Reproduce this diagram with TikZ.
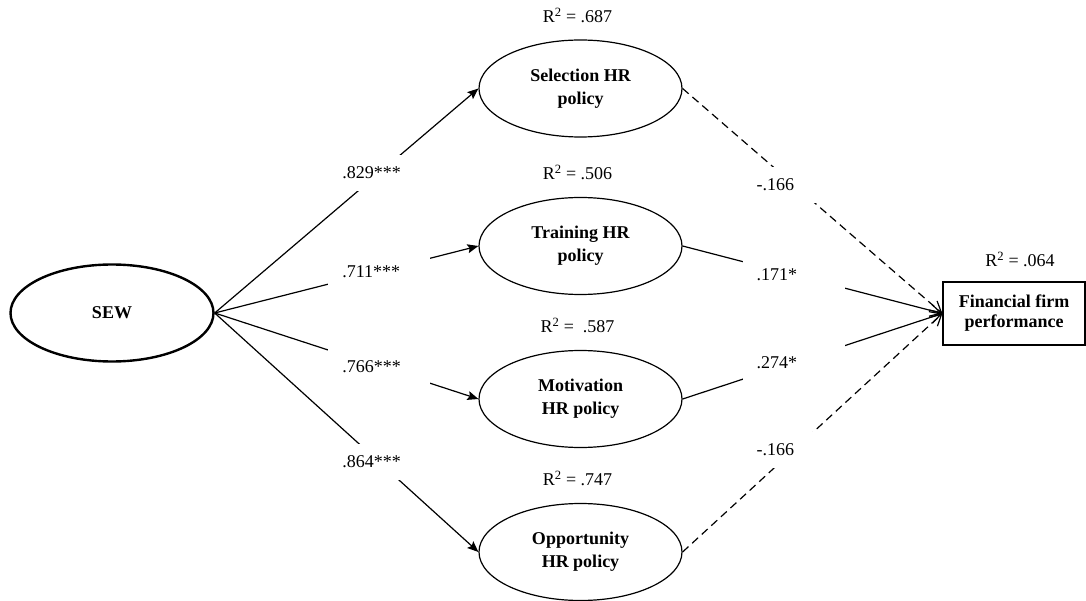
\documentclass[tikz,border=0pt]{standalone}
\usepackage{fontspec}
\setmainfont{Liberation Serif}
\usetikzlibrary{
arrows.meta,
positioning,
shapes.geometric
}

\begin{document}
\begin{tikzpicture}[
x=1pt,y=1pt,
font=\fontsize{18}{23}\selectfont,
construct/.style={
draw,
ellipse,
line width=1.2pt,
minimum width=203pt,
minimum height=97pt,
inner sep=0pt,
align=center,
font=\fontsize{18}{23}\selectfont\bfseries
},
outcome/.style={
draw,
rectangle,
line width=1.2pt,
minimum width=142pt,
minimum height=63pt,
align=center,
font=\fontsize{18}{20}\selectfont\bfseries
},
rsq/.style={inner sep=0pt,xshift=-3pt},
coef/.style={fill=white,text width=74pt,align=left,inner xsep=14pt,minimum height=36pt},
arrow/.style={-{Stealth[length=11pt,width=9pt,inset=2pt]},line width=1.2pt},
effect/.style={-{Straight Barb[length=11pt,width=12pt]},line width=1.2pt},
nonsig/.style={effect,dash pattern=on 8pt off 5pt}
]
\useasboundingbox (0,0) rectangle (1086,-601);

\node[construct,line width=2.4pt] (sew) at (112,-313) {SEW};

\node[construct] (selection) at (580.5,-88.5) {Selection HR\\policy};
\node[construct] (training) at (580.5,-246) {Training HR\\policy};
\node[construct] (motivation) at (580.5,-399) {Motivation\\HR policy};
\node[construct] (opportunity) at (580.5,-552) {Opportunity\\HR policy};

\node[outcome] (perf) at (1014,-313.5) {Financial firm\\performance};

% explained variance
\node[rsq,above=16.5pt of selection] (r2sel) {R\textsuperscript{2} = .687};
\node[rsq,above=16.5pt of training] (r2tra) {R\textsuperscript{2} = .506};
\node[rsq,above=16.5pt of motivation] (r2mot) {R\textsuperscript{2} =\ \ .587};
\node[rsq,above=16.5pt of opportunity] (r2opp) {R\textsuperscript{2} = .747};
\node[inner sep=0pt,above=14pt of perf,xshift=6pt] (r2perf) {R\textsuperscript{2} = .064};

% SEW -> HR policies
\draw[arrow] (sew.east) -- node[coef,pos=0.624] {.829***} (selection.west);
\draw[arrow] (sew.east) -- node[coef,pos=0.624] {.711***} (training.west);
\draw[arrow] (sew.east) -- node[coef,pos=0.624] {.766***} (motivation.west);
\draw[arrow] (sew.east) -- node[coef,pos=0.624] {.864***} (opportunity.west);

% HR policies -> performance
\draw[nonsig] (selection.east) -- node[coef,pos=0.427] {-.166} (perf.west);
\draw[effect] (training.east) -- node[coef,pos=0.427] {.171*} (perf.west);
\draw[effect] (motivation.east) -- node[coef,pos=0.427] {.274*} (perf.west);
\draw[nonsig] (opportunity.east) -- node[coef,pos=0.427] {-.166} (perf.west);

\end{tikzpicture}
\end{document}
